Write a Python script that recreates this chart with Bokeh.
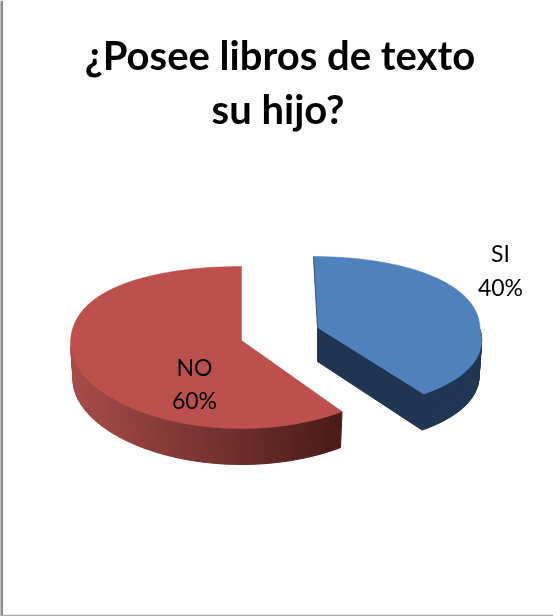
import math
from bokeh.plotting import figure
from bokeh.models import ColumnDataSource, Range1d, Span
from bokeh.core.properties import value
from bokeh.embed import file_html
from bokeh.resources import INLINE

title_lines = ["¿Posee libros de texto", "su hijo?"]
categories = ["SI", "NO"]
percent = [40, 60]

W, H = 553, 616
FONT = "Lato"

# pie geometry per slice (explosion and perspective of the 3D look)
GEOM = {
    "SI": dict(apex=(317, 327), cx=313, cy=329, B=166.5, A=76.6, k=0.05, kx=0.139, full=0.1, depth=36, shrink=0.985),
    "NO": dict(apex=(241, 340), cx=241, cy=343, B=171, A=80.8, k=0.0494, kx=0.0, full=0.2, depth=36, shrink=0.985),
}
TOP = {"SI": "#4f81bd", "NO": "#bd504c"}
BLUE_SIDE = "#1f3552"
RED_SIDE_L = (168, 76, 72)
RED_SIDE_R = (74, 27, 25)


def rim(g, f):
    a = 2 * math.pi * f
    u, v = math.sin(a), math.cos(a)
    vy = v + g["full"] * v * (1 - v) if v > 0 else v
    return (g["cx"] + g["B"] * u / (1 + g["kx"] * min(v, 0)),
            g["cy"] - g["A"] * vy / (1 + g["k"] * vy))


def low(g, pt):
    return (g["cx"] + (pt[0] - g["cx"]) * g["shrink"], pt[1] + g["depth"])


p = figure(width=W, height=H, x_range=Range1d(0, W), y_range=Range1d(H, 0),
           output_backend="svg", toolbar_location=None, min_border=0,
           outline_line_color=None, background_fill_color="white",
           border_fill_color="white",
           styles={"position": "fixed", "left": "0px", "top": "0px"})
p.axis.visible = False
p.grid.visible = False

# slice fractions, clockwise from the top
total = sum(percent)
spans = {}
start = 0.0
for c, v in zip(categories, percent):
    spans[c] = (start, start + v / total)
    start += v / total

# side strips
xs, ys, cols = [], [], []
N = 70
g = GEOM["NO"]
f0, f1 = spans["NO"][0], 0.745
for i in range(N):
    a = f0 + (f1 - f0) * i / N
    b = f0 + (f1 - f0) * (i + 1) / N
    pa, pb = rim(g, a), rim(g, b)
    la, lb = low(g, pa), low(g, pb)
    xs.append([pa[0], pb[0], lb[0], la[0]])
    ys.append([pa[1], pb[1], lb[1], la[1]])
    t = (pa[0] - 70) / (341 - 70)
    rgb = [round(RED_SIDE_L[j] + (RED_SIDE_R[j] - RED_SIDE_L[j]) * t) for j in range(3)]
    cols.append("#%02x%02x%02x" % tuple(rgb))

g = GEOM["SI"]
f0, f1 = 0.25, spans["SI"][1]
for i in range(24):
    a = f0 + (f1 - f0) * i / 24
    b = f0 + (f1 - f0) * (i + 1) / 24
    pa, pb = rim(g, a), rim(g, b)
    la, lb = low(g, pa), low(g, pb)
    xs.append([pa[0], pb[0], lb[0], la[0]])
    ys.append([pa[1], pb[1], lb[1], la[1]])
    cols.append(BLUE_SIDE)
tip = rim(g, spans["SI"][1])
ax, ay = g["apex"]
xs.append([ax, tip[0], low(g, tip)[0], ax])
ys.append([ay, tip[1], tip[1] + g["depth"], ay + g["depth"] - 2])
cols.append(BLUE_SIDE)
p.patches("xs", "ys", source=ColumnDataSource(dict(xs=xs, ys=ys, c=cols)),
          fill_color="c", line_color="c", line_width=1)

# top faces
for c in categories:
    g = GEOM[c]
    a, b = spans[c]
    n = 160
    pts = [rim(g, a + (b - a) * i / n) for i in range(n + 1)]
    p.patch([g["apex"][0]] + [q[0] for q in pts], [g["apex"][1]] + [q[1] for q in pts],
            fill_color=TOP[c], line_color=TOP[c], line_width=0.5)

# thin dark edge of the exploded slice
g = GEOM["SI"]
s = rim(g, 0.0)
p.line([s[0], g["apex"][0]], [s[1], g["apex"][1]], line_color=BLUE_SIDE, line_width=1, line_alpha=0.7)

# title
p.text(x=[279.5, 277.5], y=[54, 108], text=title_lines, text_font=value(FONT),
       text_font_style="bold", text_font_size="40px", text_color="black",
       text_align="center", text_baseline="alphabetic")

# data labels
lab_pos = {"SI": (500, 252, 286), "NO": (194, 366, 399)}
lx, ly, lt = [], [], []
for c, v in zip(categories, percent):
    x, y1, y2 = lab_pos[c]
    lx += [x, x]
    ly += [y1, y2]
    lt += [c, f"{v}%"]
p.text(x=lx, y=ly, text=lt, text_font=value(FONT), text_font_size="23px",
       text_color="black", text_align="center", text_baseline="middle")

# sheet edges
p.add_layout(Span(location=1, dimension="height", line_color="#8c8c8c", line_width=3))
p.add_layout(Span(location=615, dimension="width", line_color="#a8a8a8", line_width=1.5))

open("out.html", "w").write(file_html(p, INLINE))
